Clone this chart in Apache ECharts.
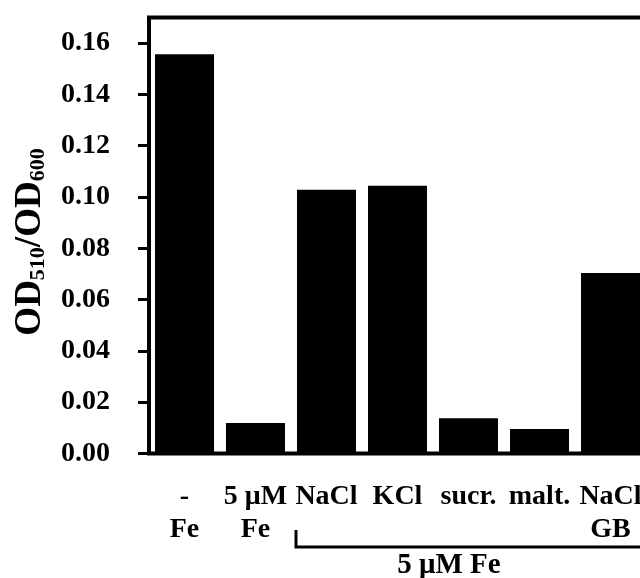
<!DOCTYPE html>
<html>
<head>
<meta charset="utf-8">
<script src="https://cdn.jsdelivr.net/npm/echarts@6/dist/echarts.min.js"></script>
<style>
  html, body { margin: 0; padding: 0; background: #fff; }
  #chart { width: 640px; height: 578px; }
</style>
</head>
<body>
<div id="chart"></div>
<script>
// conditions along the x axis
var categories = ['-\nFe', '5 \u03bcM\nFe', 'NaCl', 'KCl', 'sucr.', 'malt.', 'NaCl\nGB'];
// OD510/OD600 per condition
var ratios = [0.1557, 0.0119, 0.1028, 0.1044, 0.0137, 0.0096, 0.0704];
// y tick labels
var yTicks = [0, 0.02, 0.04, 0.06, 0.08, 0.10, 0.12, 0.14, 0.16];

var serif = '"Liberation Serif", "Times New Roman", serif';
var chart = echarts.init(document.getElementById('chart'));

chart.setOption({
  animation: false,
  // the frame runs past the right edge of the picture
  grid: {
    left: 149,
    width: 497,
    top: 17.5,
    bottom: 124.5,
    outerBoundsMode: 'none',
    show: true,
    borderColor: '#000',
    borderWidth: 4
  },
  xAxis: {
    type: 'category',
    data: categories,
    axisLine: { lineStyle: { color: '#000', width: 3 } },
    axisTick: { show: false },
    axisLabel: {
      interval: 0,
      margin: 27,
      color: '#000',
      fontFamily: serif,
      fontWeight: 'bold',
      fontSize: 28,
      lineHeight: 33
    }
  },
  yAxis: {
    type: 'value',
    min: 0,
    max: 0.17,
    splitLine: { show: false },
    axisLine: { show: true, lineStyle: { color: '#000', width: 3 } },
    axisTick: {
      show: true,
      length: 11,
      customValues: yTicks,
      lineStyle: { color: '#000', width: 3 }
    },
    axisLabel: {
      customValues: yTicks,
      margin: 39,
      color: '#000',
      fontFamily: serif,
      fontWeight: 'bold',
      fontSize: 28,
      padding: [0, 0, 9, 0],
      formatter: function (v) { return v.toFixed(2); }
    },
    name: 'OD{sub|510}/OD{sub|600}',
    nameLocation: 'middle',
    nameGap: 100,
    nameRotate: 90,
    nameTextStyle: {
      color: '#000',
      fontFamily: serif,
      fontWeight: 'bold',
      fontSize: 37,
      padding: [0, 13, 0, 0],
      rich: {
        sub: {
          fontFamily: serif,
          fontWeight: 'bold',
          fontSize: 22,
          color: '#000',
          padding: [15, 0, 0, 0]
        }
      }
    }
  },
  series: [{
    type: 'bar',
    data: ratios,
    barWidth: 59,
    itemStyle: { color: '#000' }
  }],
  graphic: [
    {
      type: 'polyline',
      shape: { points: [[296, 530], [296, 547], [650, 547]] },
      style: { stroke: '#000', lineWidth: 3, fill: null }
    },
    {
      type: 'text',
      x: 449,
      y: 566,
      style: {
        text: '5 \u03bcM Fe',
        fill: '#000',
        font: 'bold 29px ' + serif,
        textAlign: 'center',
        textVerticalAlign: 'middle'
      }
    }
  ]
});
</script>
</body>
</html>
